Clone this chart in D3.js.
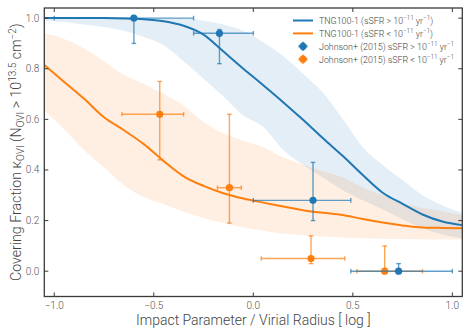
<!DOCTYPE html>
<html><head><meta charset="utf-8">
<script src="https://cdn.jsdelivr.net/npm/d3@7"></script>
<style>
body{margin:0;background:#fff;}
text{font-family:Roboto,"DejaVu Sans",sans-serif;}
</style></head>
<body><svg id="c" width="471" height="336"></svg>
<script>
// grid of impact parameter (log r/rvir)
const gridX = [-1.05,-0.95,-0.85,-0.75,-0.65,-0.55,-0.45,-0.35,-0.25,-0.15,-0.05,0.05,0.15,0.25,0.35,0.45,0.55,0.65,0.75,0.85,0.95,1.05];
// TNG100-1 sSFR > 1e-11
const blueLine  = [1.0,1.0,1.0,1.0,0.999,0.996,0.988,0.97,0.935,0.868,0.80,0.735,0.668,0.598,0.525,0.455,0.38,0.31,0.266,0.224,0.196,0.182];
const blueUpper = [1.0,1.0,1.0,1.0,1.0,1.0,1.0,1.0,0.99,0.975,0.95,0.905,0.85,0.78,0.705,0.60,0.49,0.42,0.36,0.30,0.26,0.23];
const blueLower = [0.99,0.985,0.975,0.965,0.95,0.925,0.893,0.83,0.76,0.69,0.615,0.57,0.48,0.42,0.37,0.32,0.28,0.245,0.205,0.17,0.145,0.13];
// TNG100-1 sSFR < 1e-11
const orangeLine  = [0.815,0.748,0.681,0.608,0.557,0.502,0.435,0.375,0.337,0.308,0.287,0.271,0.256,0.241,0.231,0.222,0.206,0.192,0.181,0.173,0.171,0.17];
const orangeUpper = [0.94,0.918,0.88,0.83,0.775,0.74,0.70,0.655,0.59,0.545,0.515,0.49,0.45,0.42,0.395,0.37,0.33,0.30,0.268,0.25,0.237,0.22];
const orangeLower = [0.635,0.56,0.478,0.41,0.34,0.292,0.265,0.235,0.21,0.19,0.173,0.16,0.148,0.142,0.137,0.133,0.13,0.128,0.127,0.126,0.125,0.125];
// Johnson+ (2015)
const blueX   = [-0.60,-0.17,0.30,0.73];
const blueY   = [1.0,0.94,0.28,0.0];
const blueYLo = [0.90,0.82,0.20,0.0];
const blueYHi = [1.0,0.955,0.43,0.03];
const blueXLo = [-1.0,-0.30,0.0,0.49];
const blueXHi = [-0.30,0.0,0.49,1.0];
const orangeX   = [-0.47,-0.12,0.29,0.66];
const orangeY   = [0.62,0.33,0.05,0.0];
const orangeYLo = [0.44,0.19,0.03,0.0];
const orangeYHi = [0.75,0.62,0.14,0.10];
const orangeXLo = [-0.66,-0.18,0.04,0.52];
const orangeXHi = [-0.35,-0.06,0.46,0.85];
const xTicks = [-1.0,-0.5,0.0,0.5,1.0];
const yTicks = [0.0,0.2,0.4,0.6,0.8,1.0];

const BLUE="#1f77b4", ORANGE="#ff7f0e";
const svg=d3.select("#c");
const L=44.3,R=462.3,T=8,B=296.5;
const x=d3.scaleLinear().domain([-1.05,1.05]).range([L,R]);
const y=d3.scaleLinear().domain([-0.1,1.04]).range([B,T]);

const defs=svg.append("defs");
defs.append("clipPath").attr("id","clip").append("rect").attr("x",L).attr("y",T).attr("width",R-L).attr("height",B-T);
const plot=svg.append("g").attr("clip-path","url(#clip)");

function band(up,lo,color){
  const a=d3.area().x((d,i)=>x(gridX[i])).y0((d,i)=>y(lo[i])).y1((d,i)=>y(up[i])).curve(d3.curveMonotoneX);
  plot.append("path").attr("d",a(gridX)).attr("fill",color).attr("fill-opacity",0.12);
}
band(blueUpper,blueLower,BLUE);
band(orangeUpper,orangeLower,ORANGE);

function line(vals,color){
  const l=d3.line().x((d,i)=>x(gridX[i])).y((d,i)=>y(vals[i])).curve(d3.curveMonotoneX);
  plot.append("path").attr("d",l(vals)).attr("fill","none").attr("stroke",color).attr("stroke-width",2);
}
line(blueLine,BLUE);
line(orangeLine,ORANGE);

function errs(X,Y,XLo,XHi,YLo,YHi,color){
  const g=svg.append("g").attr("stroke",color).attr("stroke-opacity",0.7).attr("stroke-width",1.4);
  const c=2.3;
  X.forEach((xv,i)=>{
    const px=x(xv),py=y(Y[i]);
    g.append("line").attr("x1",x(XLo[i])).attr("x2",x(XHi[i])).attr("y1",py).attr("y2",py);
    [XLo[i],XHi[i]].forEach(v=>g.append("line").attr("x1",x(v)).attr("x2",x(v)).attr("y1",py-c).attr("y2",py+c));
    g.append("line").attr("x1",px).attr("x2",px).attr("y1",y(YLo[i])).attr("y2",y(YHi[i]));
    [YLo[i],YHi[i]].forEach(v=>{ if(v!==Y[i]) g.append("line").attr("x1",px-c).attr("x2",px+c).attr("y1",y(v)).attr("y2",y(v));});
  });
  svg.append("g").selectAll("circle").data(X).join("circle")
    .attr("cx",d=>x(d)).attr("cy",(d,i)=>y(Y[i])).attr("r",3.6).attr("fill",color);
}
errs(orangeX,orangeY,orangeXLo,orangeXHi,orangeYLo,orangeYHi,ORANGE);
errs(blueX,blueY,blueXLo,blueXHi,blueYLo,blueYHi,BLUE);

// spines
const ax=svg.append("g");
ax.append("rect").attr("x",L).attr("y",T).attr("width",R-L).attr("height",B-T).attr("fill","none").attr("stroke","#3a3a3a").attr("stroke-width",1.3);
const tk=ax.append("g").attr("stroke","#3a3a3a").attr("stroke-width",1);
xTicks.forEach(v=>{
  tk.append("line").attr("x1",x(v)).attr("x2",x(v)).attr("y1",B).attr("y2",B-4);
  tk.append("line").attr("x1",x(v)).attr("x2",x(v)).attr("y1",T).attr("y2",T+4);
});
yTicks.forEach(v=>{
  tk.append("line").attr("x1",L).attr("x2",L+4).attr("y1",y(v)).attr("y2",y(v));
  tk.append("line").attr("x1",R).attr("x2",R-4).attr("y1",y(v)).attr("y2",y(v));
});
const fmt=d3.format(".1f");
ax.selectAll(".xl").data(xTicks).join("text").attr("x",d=>x(d)).attr("y",B+12)
  .attr("text-anchor","middle").attr("font-size",10).attr("font-weight",300).attr("fill","#555").text(d=>fmt(d));
ax.selectAll(".yl").data(yTicks).join("text").attr("x",L-5).attr("y",d=>y(d)+3.5)
  .attr("text-anchor","end").attr("font-size",10).attr("font-weight",300).attr("fill","#555").text(d=>fmt(d));

// axis labels
svg.append("text").attr("x",(L+R)/2).attr("y",325).attr("text-anchor","middle").attr("font-size",14).attr("font-weight",300).attr("fill","#444")
  .text("Impact Parameter / Virial Radius [ log ]");
const yl=svg.append("text").attr("transform",`translate(21,${(T+B)/2}) rotate(-90)`).attr("text-anchor","middle")
  .attr("font-size",14.2).attr("font-weight",300).attr("fill","#444");
yl.append("tspan").text("Covering Fraction κ");
yl.append("tspan").attr("font-size",10).attr("dy",3).text("OVI");
yl.append("tspan").attr("dy",-3).text(" (N");
yl.append("tspan").attr("font-size",10).attr("dy",3).text("OVI");
yl.append("tspan").attr("dy",-3).text(" > 10");
yl.append("tspan").attr("font-size",10).attr("dy",-5).text("13.5");
yl.append("tspan").attr("dy",5).text(" cm");
yl.append("tspan").attr("font-size",10).attr("dy",-5).text("−2");
yl.append("tspan").attr("dy",5).text(")");

// legend
const lg=svg.append("g");
const rows=[
  {t:"TNG100-1 (sSFR > 10",c:BLUE,k:"l"},
  {t:"TNG100-1 (sSFR < 10",c:ORANGE,k:"l"},
  {t:"Johnson+ (2015) sSFR > 10",c:BLUE,k:"p"},
  {t:"Johnson+ (2015) sSFR < 10",c:ORANGE,k:"p"}
];
rows.forEach((r,i)=>{
  const yy=20.5+i*12.9;
  if(r.k==="l"){
    lg.append("line").attr("x1",293).attr("x2",313).attr("y1",yy).attr("y2",yy).attr("stroke",r.c).attr("stroke-width",2);
  } else {
    lg.append("line").attr("x1",303).attr("x2",303).attr("y1",yy-4.5).attr("y2",yy+4.5).attr("stroke",r.c).attr("stroke-width",2.4).attr("stroke-opacity",0.8);
    lg.append("line").attr("x1",298.5).attr("x2",307.5).attr("y1",yy).attr("y2",yy).attr("stroke",r.c).attr("stroke-width",2.4).attr("stroke-opacity",0.8);
    lg.append("circle").attr("cx",303).attr("cy",yy).attr("r",3.6).attr("fill",r.c);
  }
  const t=lg.append("text").attr("x",319).attr("y",yy+3.3).attr("font-size",8.9).attr("font-weight",300).attr("fill","#444");
  t.append("tspan").text(r.t);
  t.append("tspan").attr("font-size",6.3).attr("dy",-3.5).text("−11");
  t.append("tspan").attr("dy",3.5).text(" yr");
  t.append("tspan").attr("font-size",6.3).attr("dy",-3.5).text("−1");
  if(r.k==="l") t.append("tspan").attr("dy",3.5).text(")");
});
</script></body></html>
